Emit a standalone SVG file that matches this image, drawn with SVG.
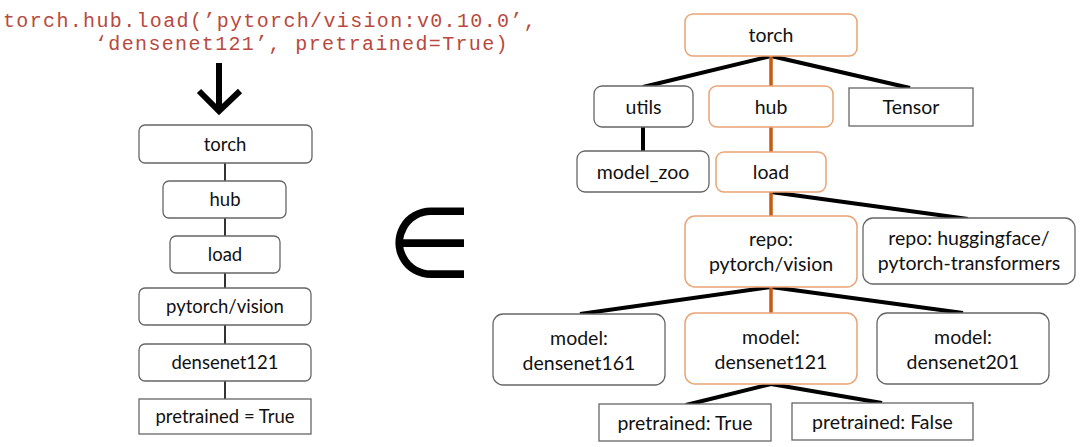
<svg xmlns="http://www.w3.org/2000/svg" width="1080" height="447" viewBox="0 0 1080 447">
<style>
.bg{fill:#fff}
.code{font-family:"Liberation Mono","Courier New",monospace;font-size:20px;letter-spacing:1.35px;fill:#B8493E}
.t{font-family:Lato,"Open Sans",sans-serif;fill:#111;text-anchor:middle}
.ts{font-size:18.5px}
.tl{font-size:19.5px}
.g{fill:#fff;stroke:#666;stroke-width:1.3}
.o{fill:#fff;stroke:#E9A474;stroke-width:1.5}
.cl{stroke:#333;stroke-width:2;fill:none}
.bk{stroke:#000;stroke-width:4;fill:none;stroke-linecap:butt}
.or{stroke:#C55A11;stroke-width:3.5;fill:none}
</style>
<rect class="bg" x="0" y="0" width="1080" height="447"/>
<g id="code">
<text class="code" x="3" y="27">torch.hub.load(’pytorch/vision:v0.10.0’,</text>
<text class="code" x="95" y="50">‘densenet121’, pretrained=True)</text>
</g>
<g id="arrow">
<line x1="219" y1="63" x2="219" y2="108" stroke="#000" stroke-width="6"/>
<polyline points="199,91 219,111 240,91" fill="none" stroke="#000" stroke-width="6"/>
</g>
<g id="elem">
<text x="429" y="277" font-family="DejaVu Sans" font-weight="200" font-size="98" text-anchor="middle" fill="#000">∈</text>
</g>
<g id="connectors">
<line class="cl" x1="225" y1="163" x2="225" y2="181"/>
<line class="cl" x1="225" y1="218" x2="225" y2="236"/>
<line class="cl" x1="225" y1="273" x2="225" y2="288"/>
<line class="cl" x1="225" y1="325" x2="225" y2="344"/>
<line class="cl" x1="225" y1="381" x2="225" y2="399"/>
<line class="bk" x1="771" y1="56" x2="643" y2="87"/>
<line class="bk" x1="771" y1="56" x2="910" y2="88"/>
<line class="bk" x1="643" y1="127" x2="643" y2="151"/>
<line class="bk" x1="771" y1="192" x2="968" y2="219"/>
<line class="bk" x1="771" y1="287" x2="580" y2="314"/>
<line class="bk" x1="771" y1="287" x2="963" y2="313"/>
<line class="bk" x1="771" y1="384" x2="686" y2="405"/>
<line class="bk" x1="771" y1="384" x2="882" y2="403"/>
<line class="or" x1="771" y1="56" x2="771" y2="86"/>
<line class="or" x1="771" y1="127" x2="771" y2="152"/>
<line class="or" x1="771" y1="192" x2="771" y2="216"/>
<line class="or" x1="771" y1="287" x2="771" y2="313"/>
</g>
<g id="l-torch"><rect class="g" x="139" y="125" width="173" height="38" rx="6"/><text class="t ts" x="225" y="150.5">torch</text></g>
<g id="l-hub"><rect class="g" x="163" y="181" width="123" height="37" rx="6"/><text class="t ts" x="225" y="206">hub</text></g>
<g id="l-load"><rect class="g" x="170" y="236" width="110" height="37" rx="6"/><text class="t ts" x="225" y="261">load</text></g>
<g id="l-repo"><rect class="g" x="139" y="288" width="172" height="37" rx="6"/><text class="t ts" x="225" y="313">pytorch/vision</text></g>
<g id="l-model"><rect class="g" x="139" y="344" width="172" height="37" rx="6"/><text class="t ts" x="225" y="369">densenet121</text></g>
<g id="l-pre"><rect class="g" x="139" y="399" width="172" height="35" rx="0"/><text class="t ts" x="225" y="423">pretrained = True</text></g>
<g id="r-torch"><rect class="o" x="685" y="14" width="172" height="42" rx="8"/><text class="t tl" x="771" y="42">torch</text></g>
<g id="r-utils"><rect class="g" x="594" y="86" width="99" height="41" rx="8"/><text class="t tl" x="643.5" y="113.5">utils</text></g>
<g id="r-hub"><rect class="o" x="709" y="86" width="124" height="41" rx="8"/><text class="t tl" x="771" y="113.5">hub</text></g>
<g id="r-tensor"><rect class="g" x="849" y="88" width="124" height="38" rx="0"/><text class="t tl" x="911" y="114">Tensor</text></g>
<g id="r-modelzoo"><rect class="g" x="577" y="151" width="132" height="41" rx="8"/><text class="t tl" x="643" y="178.5">model_zoo</text></g>
<g id="r-load"><rect class="o" x="716" y="152" width="110" height="40" rx="8"/><text class="t tl" x="771" y="179">load</text></g>
<g id="r-repo"><rect class="o" x="685" y="216" width="172" height="71" rx="10"/><text class="t tl" x="771" y="246">repo:</text><text class="t tl" x="771" y="271">pytorch/vision</text></g>
<g id="r-hf"><rect class="g" x="863" y="218" width="212" height="66" rx="10"/><text class="t tl" x="969" y="245">repo: huggingface/</text><text class="t tl" x="969" y="270">pytorch-transformers</text></g>
<g id="r-d161"><rect class="g" x="493" y="314" width="172" height="71" rx="10"/><text class="t tl" x="579" y="345">model:</text><text class="t tl" x="579" y="370">densenet161</text></g>
<g id="r-d121"><rect class="o" x="685" y="313" width="172" height="71" rx="10"/><text class="t tl" x="771" y="344">model:</text><text class="t tl" x="771" y="369">densenet121</text></g>
<g id="r-d201"><rect class="g" x="877" y="313" width="172" height="71" rx="10"/><text class="t tl" x="963" y="344">model:</text><text class="t tl" x="963" y="369">densenet201</text></g>
<g id="r-pt"><rect class="g" x="599" y="404" width="172" height="37" rx="0"/><text class="t tl" x="685" y="429.5">pretrained: True</text></g>
<g id="r-pf"><rect class="g" x="792" y="403" width="181" height="37" rx="0"/><text class="t tl" x="882.5" y="428.5">pretrained: False</text></g>
</svg>
